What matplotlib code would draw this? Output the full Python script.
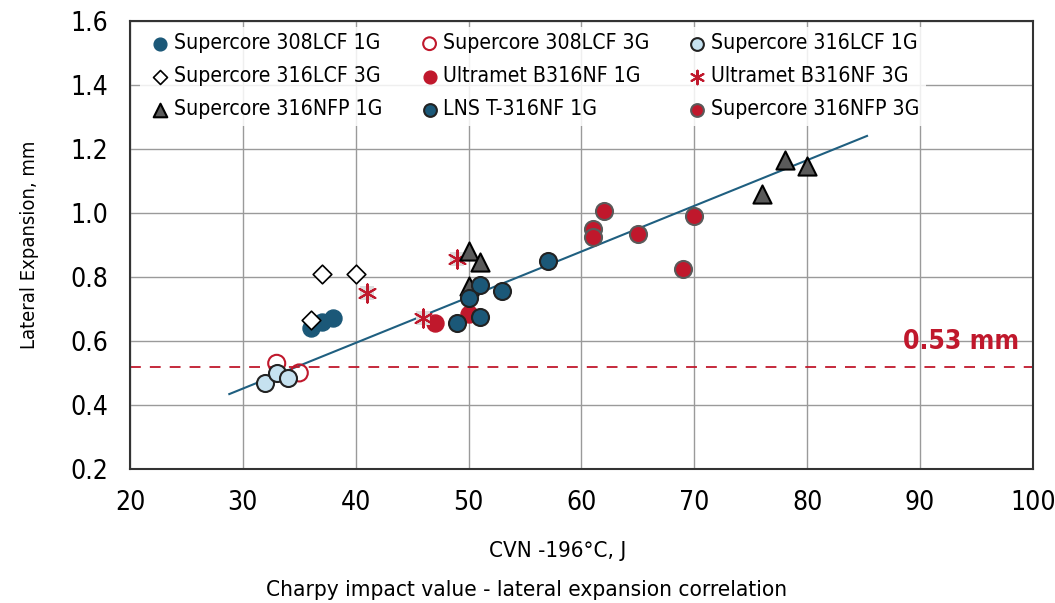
import matplotlib
matplotlib.use("Agg")
import matplotlib.pyplot as plt
from matplotlib import font_manager

# font: a condensed sans if one is installed, else Lato
fonts = font_manager.fontManager.ttflist
names = {f.name for f in fonts}
STRETCH = "normal"
if "Liberation Sans Narrow" in names:
    FAMILY = "Liberation Sans Narrow"
elif any(f.name == "DejaVu Sans" and f.stretch == "condensed" for f in fonts):
    FAMILY, STRETCH = "DejaVu Sans", "condensed"
elif "Roboto Condensed" in names:
    FAMILY = "Roboto Condensed"
else:
    FAMILY = "Lato"
plt.rcParams["font.family"] = FAMILY
plt.rcParams["font.stretch"] = STRETCH

# ---------------------------------------------------------------------------
# Data (CVN at -196 C in J, lateral expansion in mm)
# ---------------------------------------------------------------------------
sc308_1g_x = [36, 37, 38]
sc308_1g_y = [0.64, 0.66, 0.67]
sc308_3g_x = [33, 35]
sc308_3g_y = [0.53, 0.50]
sc316_1g_x = [32, 33, 34]
sc316_1g_y = [0.47, 0.50, 0.485]
sc316_3g_x = [37, 40, 36]
sc316_3g_y = [0.81, 0.81, 0.665]
um_1g_x = [47, 50]
um_1g_y = [0.655, 0.685]
um_3g_x = [41, 46, 49]
um_3g_y = [0.75, 0.67, 0.855]
nfp_1g_x = [50, 51, 50, 78, 80, 76]
nfp_1g_y = [0.88, 0.845, 0.77, 1.165, 1.145, 1.06]
lns_1g_x = [51, 50, 53, 49, 51, 57]
lns_1g_y = [0.775, 0.735, 0.755, 0.655, 0.675, 0.85]
nfp_3g_x = [62, 61, 61, 65, 70, 69]
nfp_3g_y = [1.005, 0.95, 0.925, 0.935, 0.99, 0.825]

trend_x = [28.8, 85.3]
trend_y = [0.434, 1.240]
limit_mm = 0.517

BLUE = "#1b5878"
RED = "#c0182c"
LIGHT = "#c6e2f0"
GRAY = "#5a5a5a"
EDGE = "#222222"

fig = plt.figure(figsize=(10.55, 6.03), dpi=100)
ax = fig.add_axes([0.1232, 0.2222, 0.8559, 0.7436])

ax.plot(trend_x, trend_y, color="#1f5f80", lw=1.5, zorder=2)
ax.axhline(limit_mm, color=RED, lw=1.3, ls=(0, (6, 5)), zorder=2)
ax.text(98.8, 0.596, "0.53 mm", color=RED, fontsize=19, fontweight="bold",
        ha="right", va="center")

S = 150
h = []
h.append(ax.scatter(sc308_1g_x, sc308_1g_y, s=S, marker="o", color=BLUE,
                    edgecolor=BLUE, zorder=3, label="Supercore 308LCF 1G"))
h.append(ax.scatter(sc308_3g_x, sc308_3g_y, s=S, marker="o", facecolor="none",
                    edgecolor=RED, lw=1.5, zorder=3, label="Supercore 308LCF 3G"))
h.append(ax.scatter(sc316_1g_x, sc316_1g_y, s=S, marker="o", facecolor=LIGHT,
                    edgecolor=EDGE, lw=1.5, zorder=3, label="Supercore 316LCF 1G"))
h.append(ax.scatter(sc316_3g_x, sc316_3g_y, s=90, marker="D", facecolor="white",
                    edgecolor="black", lw=1.2, zorder=3, label="Supercore 316LCF 3G"))
h.append(ax.scatter(um_1g_x, um_1g_y, s=S, marker="o", color=RED,
                    edgecolor=RED, zorder=3, label="Ultramet B316NF 1G"))
ax.scatter(um_3g_x, um_3g_y, s=110, marker="s", color="#dddddd", lw=0, zorder=3)
h.append(ax.scatter(um_3g_x, um_3g_y, s=170, marker=(6, 2, 0), color=RED,
                    lw=1.5, zorder=3, label="Ultramet B316NF 3G"))
h.append(ax.scatter(nfp_1g_x, nfp_1g_y, s=170, marker="^", facecolor=GRAY,
                    edgecolor="black", lw=1.5, zorder=3, label="Supercore 316NFP 1G"))
h.append(ax.scatter(lns_1g_x, lns_1g_y, s=S, marker="o", facecolor=BLUE,
                    edgecolor=EDGE, lw=1.5, zorder=3, label="LNS T-316NF 1G"))
h.append(ax.scatter(nfp_3g_x, nfp_3g_y, s=S, marker="o", facecolor=RED,
                    edgecolor=GRAY, lw=1.5, zorder=3, label="Supercore 316NFP 3G"))

# legend is filled row by row in the reference -> reorder for column-major
order = [0, 3, 6, 1, 4, 7, 2, 5, 8]
leg = ax.legend([h[i] for i in order], [h[i].get_label() for i in order],
                ncol=3, loc="upper left", bbox_to_anchor=(0.011, 0.986),
                borderaxespad=0, fontsize=15.2, frameon=True, framealpha=0.85,
                edgecolor="none", fancybox=False, markerscale=0.75,
                handletextpad=0.0, columnspacing=1.6, labelspacing=0.62,
                borderpad=0.3, handlelength=1.3)
leg.set_zorder(5)

ax.set_xlim(20, 100)
ax.set_ylim(0.2, 1.6)
ax.set_xticks(range(20, 101, 10))
ax.set_yticks([0.2, 0.4, 0.6, 0.8, 1.0, 1.2, 1.4, 1.6])
ax.set_yticklabels([f"{v:.1f}" for v in ax.get_yticks()])
ax.grid(True, color="#9a9a9a", lw=1.0)
ax.set_axisbelow(True)
ax.tick_params(length=0, labelsize=19)
ax.tick_params(axis="y", pad=16)
ax.tick_params(axis="x", pad=15)
for sp in ax.spines.values():
    sp.set_color("#333333")
    sp.set_linewidth(1.5)

ax.set_ylabel("Lateral Expansion, mm", fontsize=14.5, labelpad=22)
fig.text(0.529, 0.086, "CVN -196°C, J", ha="center", va="center", fontsize=16)
fig.text(0.499, 0.021, "Charpy impact value - lateral expansion correlation",
         ha="center", va="center", fontsize=16.2)

fig.savefig("out.png", dpi=100)
